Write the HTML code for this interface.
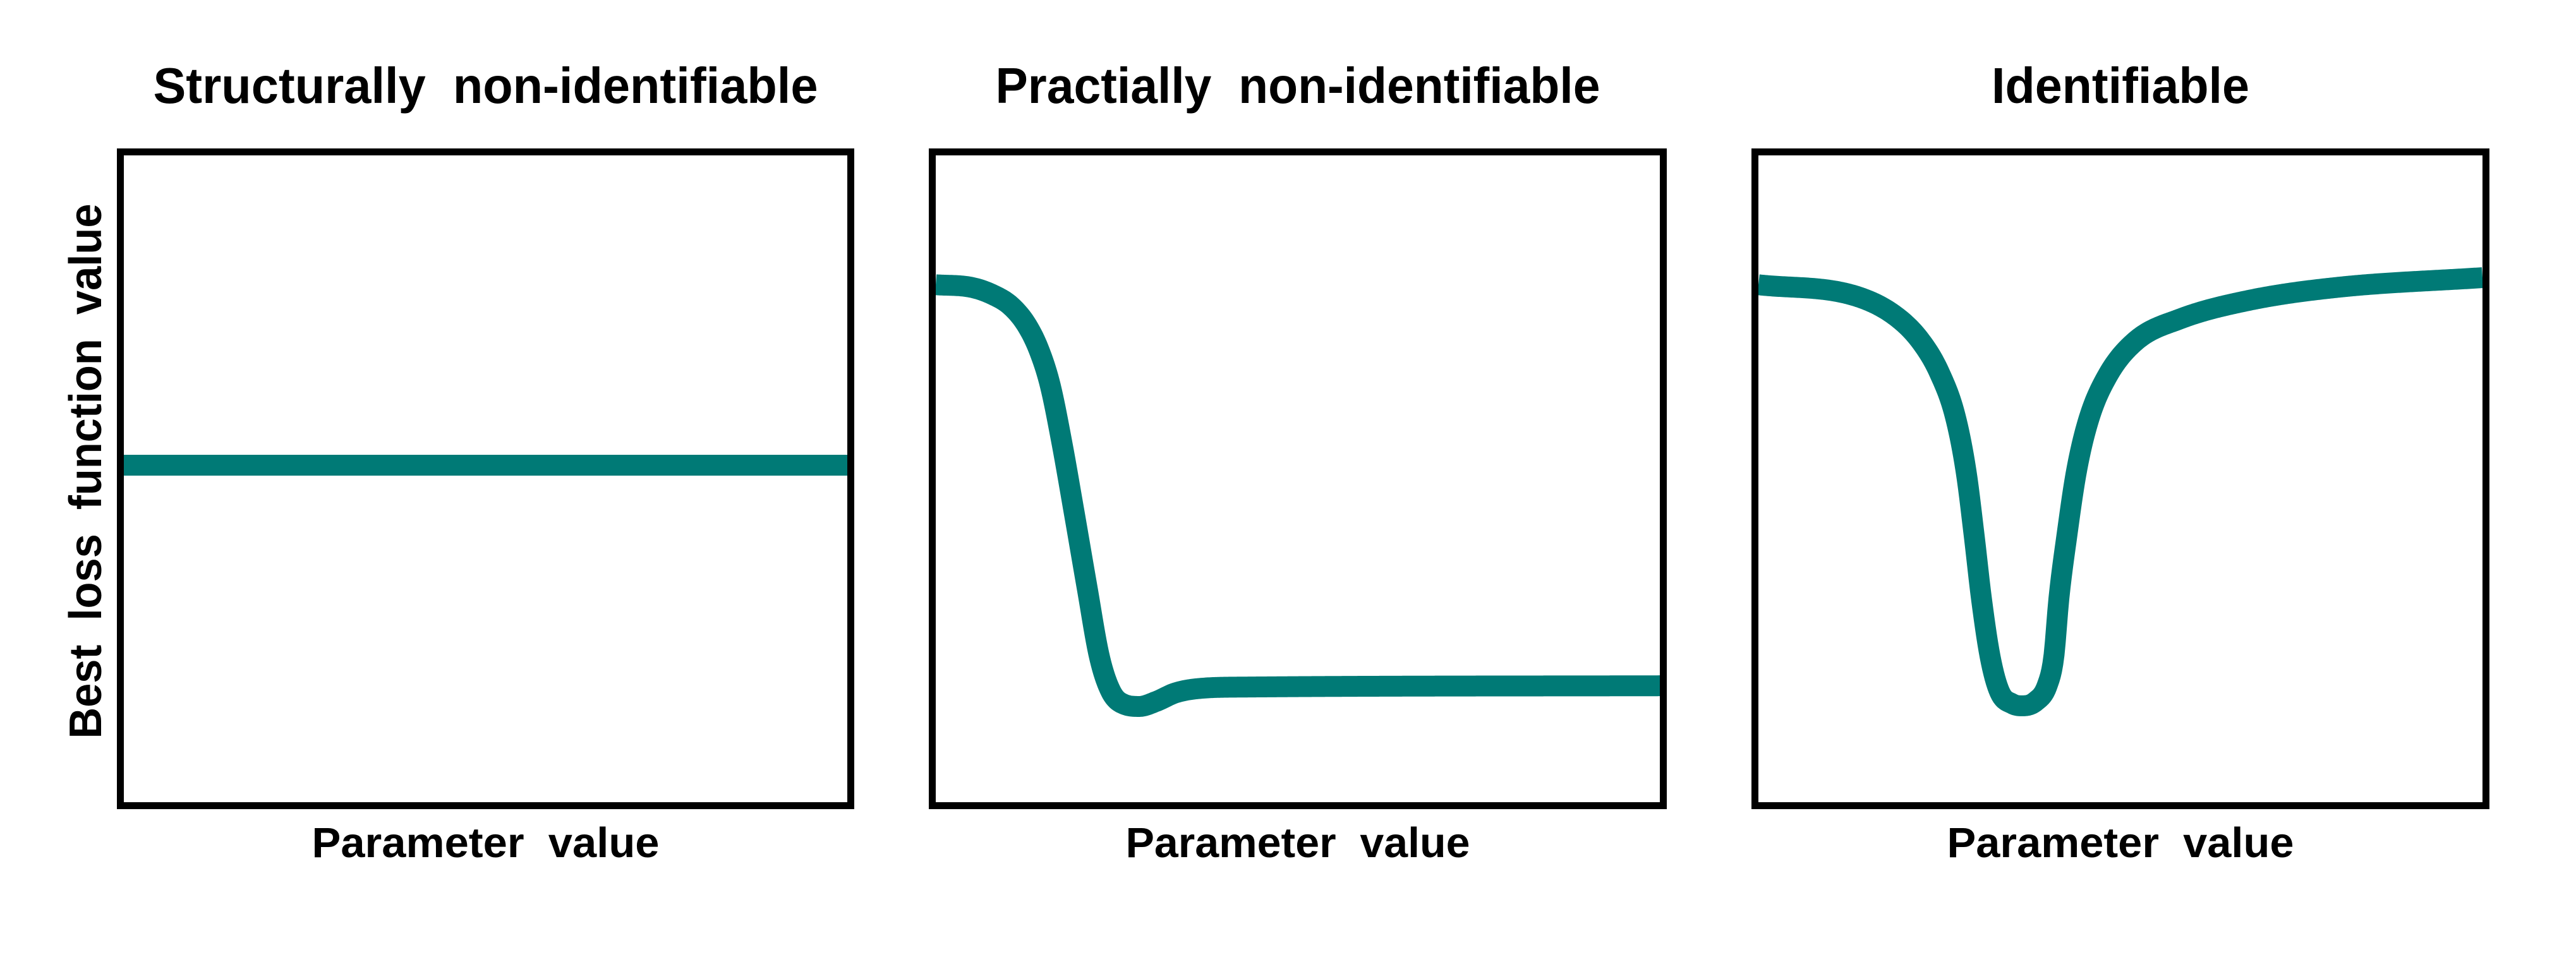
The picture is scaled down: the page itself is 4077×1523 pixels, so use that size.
<!DOCTYPE html>
<html><head><meta charset="utf-8"><style>html,body{margin:0;padding:0;background:#fff}svg{display:block}text{font-family:"Liberation Sans",sans-serif;font-weight:bold;fill:#000;white-space:pre}</style></head>
<body>
<svg id="fig" width="4077" height="1523" viewBox="0 0 4077 1523" xmlns="http://www.w3.org/2000/svg">
<rect width="4077" height="1523" fill="#fff"/>
</svg>
<script>
const panelTitles = ["Structurally  non-identifiable", "Practially  non-identifiable", "Identifiable"];
const p1X = [0, 10];
const p1Y = [5.21, 5.21];
const p2X = [0, 0.49, 0.78, 1.04, 1.26, 1.43, 1.58, 1.74, 1.91, 2.09, 2.26, 2.42, 2.61, 2.81, 3.05, 3.31, 3.66, 4.27, 10];
const p2Y = [8.00, 7.96, 7.85, 7.67, 7.37, 6.98, 6.45, 5.57, 4.49, 3.32, 2.25, 1.71, 1.51, 1.48, 1.56, 1.69, 1.76, 1.78, 1.80];
const p3X = [0, 1.33, 1.89, 2.24, 2.50, 2.72, 2.87, 2.98, 3.08, 3.20, 3.33, 3.51, 3.65, 3.83, 3.99, 4.08, 4.15, 4.26, 4.39, 4.56, 4.82, 5.21, 5.82, 6.78, 8.00, 10];
const p3Y = [8.00, 7.83, 7.52, 7.13, 6.64, 5.96, 5.10, 4.12, 3.15, 2.25, 1.71, 1.52, 1.49, 1.56, 1.81, 2.25, 3.15, 4.12, 5.10, 5.91, 6.59, 7.13, 7.47, 7.76, 7.96, 8.11];

const NS = "http://www.w3.org/2000/svg";
const svg = document.getElementById("fig");
const panels = [
  {x0: 185, x1: 1352, tw: 1052, lw: 550, xs: p1X, ys: p1Y},
  {x0: 1470, x1: 2638, tw: 957, lw: 545, xs: p2X, ys: p2Y},
  {x0: 2772, x1: 3940, tw: 408, lw: 549, xs: p3X, ys: p3Y}
];
const frameTop = 235, frameBot = 1281, bw = 11;
const iTop = frameTop + bw, iBot = frameBot - bw;
function mk(tag, attrs){const e=document.createElementNS(NS,tag);for(const k in attrs)e.setAttribute(k,attrs[k]);svg.appendChild(e);return e;}

// Fritsch-Carlson monotone cubic interpolation
function monotone(xs, ys){
  const n = xs.length, d = [], m = [];
  for (let i = 0; i < n - 1; i++) d.push((ys[i+1]-ys[i])/(xs[i+1]-xs[i]));
  m[0] = d[0]; m[n-1] = d[n-2];
  for (let i = 1; i < n - 1; i++) m[i] = (d[i-1]*d[i] <= 0) ? 0 : (d[i-1]+d[i])/2;
  for (let i = 0; i < n - 1; i++) {
    if (d[i] === 0) { m[i] = 0; m[i+1] = 0; continue; }
    const a = m[i]/d[i], b = m[i+1]/d[i], s = a*a + b*b;
    if (s > 9) { const t = 3/Math.sqrt(s); m[i] = t*a*d[i]; m[i+1] = t*b*d[i]; }
  }
  return x => {
    let i = 0; while (i < n - 2 && x > xs[i+1]) i++;
    const h = xs[i+1]-xs[i], t = (x - xs[i])/h;
    const h00 = 2*t*t*t - 3*t*t + 1, h10 = t*t*t - 2*t*t + t, h01 = -2*t*t*t + 3*t*t, h11 = t*t*t - t*t;
    return h00*ys[i] + h10*h*m[i] + h01*ys[i+1] + h11*h*m[i+1];
  };
}

panels.forEach((p, i) => {
  const ix0 = p.x0 + bw, ix1 = p.x1 - bw;
  const sx = v => ix0 + (v / 10) * (ix1 - ix0);
  const sy = v => iBot - (v / 10) * (iBot - iTop);
  const cp = mk("clipPath", {id: "clip" + i});
  const cr = document.createElementNS(NS, "rect");
  cr.setAttribute("x", ix0); cr.setAttribute("y", iTop); cr.setAttribute("width", ix1 - ix0); cr.setAttribute("height", iBot - iTop);
  cp.appendChild(cr);
  const f = monotone(p.xs, p.ys);
  const xmin = p.xs[0], xmax = p.xs[p.xs.length - 1];
  let d = "";
  const N = 600;
  for (let k = 0; k <= N; k++) {
    const xv = xmin + (xmax - xmin) * k / N;
    d += (k ? " L" : "M") + sx(xv).toFixed(2) + "," + sy(f(xv)).toFixed(2);
  }
  const path = mk("path", {d: d, fill: "none", stroke: "#007a76", "stroke-width": 33, "stroke-linejoin": "round", "clip-path": "url(#clip" + i + ")"});
  
  
  const fr = mk("rect", {x: p.x0 + bw / 2, y: frameTop + bw / 2, width: p.x1 - p.x0 - bw, height: frameBot - frameTop - bw, fill: "none", stroke: "#000", "stroke-width": bw});
  
  
  const cx = (p.x0 + p.x1) / 2;
  const t = mk("text", {x: cx, y: 163, "text-anchor": "middle", "font-size": 80, textLength: p.tw, lengthAdjust: "spacingAndGlyphs"});
  t.textContent = panelTitles[i];
  
  
  const xl = mk("text", {x: cx, y: 1357, "text-anchor": "middle", "font-size": 67, textLength: p.lw, lengthAdjust: "spacingAndGlyphs"});
  xl.textContent = "Parameter  value";
  
  
});
const yl = mk("text", {x: 0, y: 0, "text-anchor": "middle", "font-size": 72, textLength: 847, lengthAdjust: "spacingAndGlyphs", transform: "translate(160,746) rotate(-90)"});
yl.textContent = "Best  loss  function  value";


</script>
</body></html>
